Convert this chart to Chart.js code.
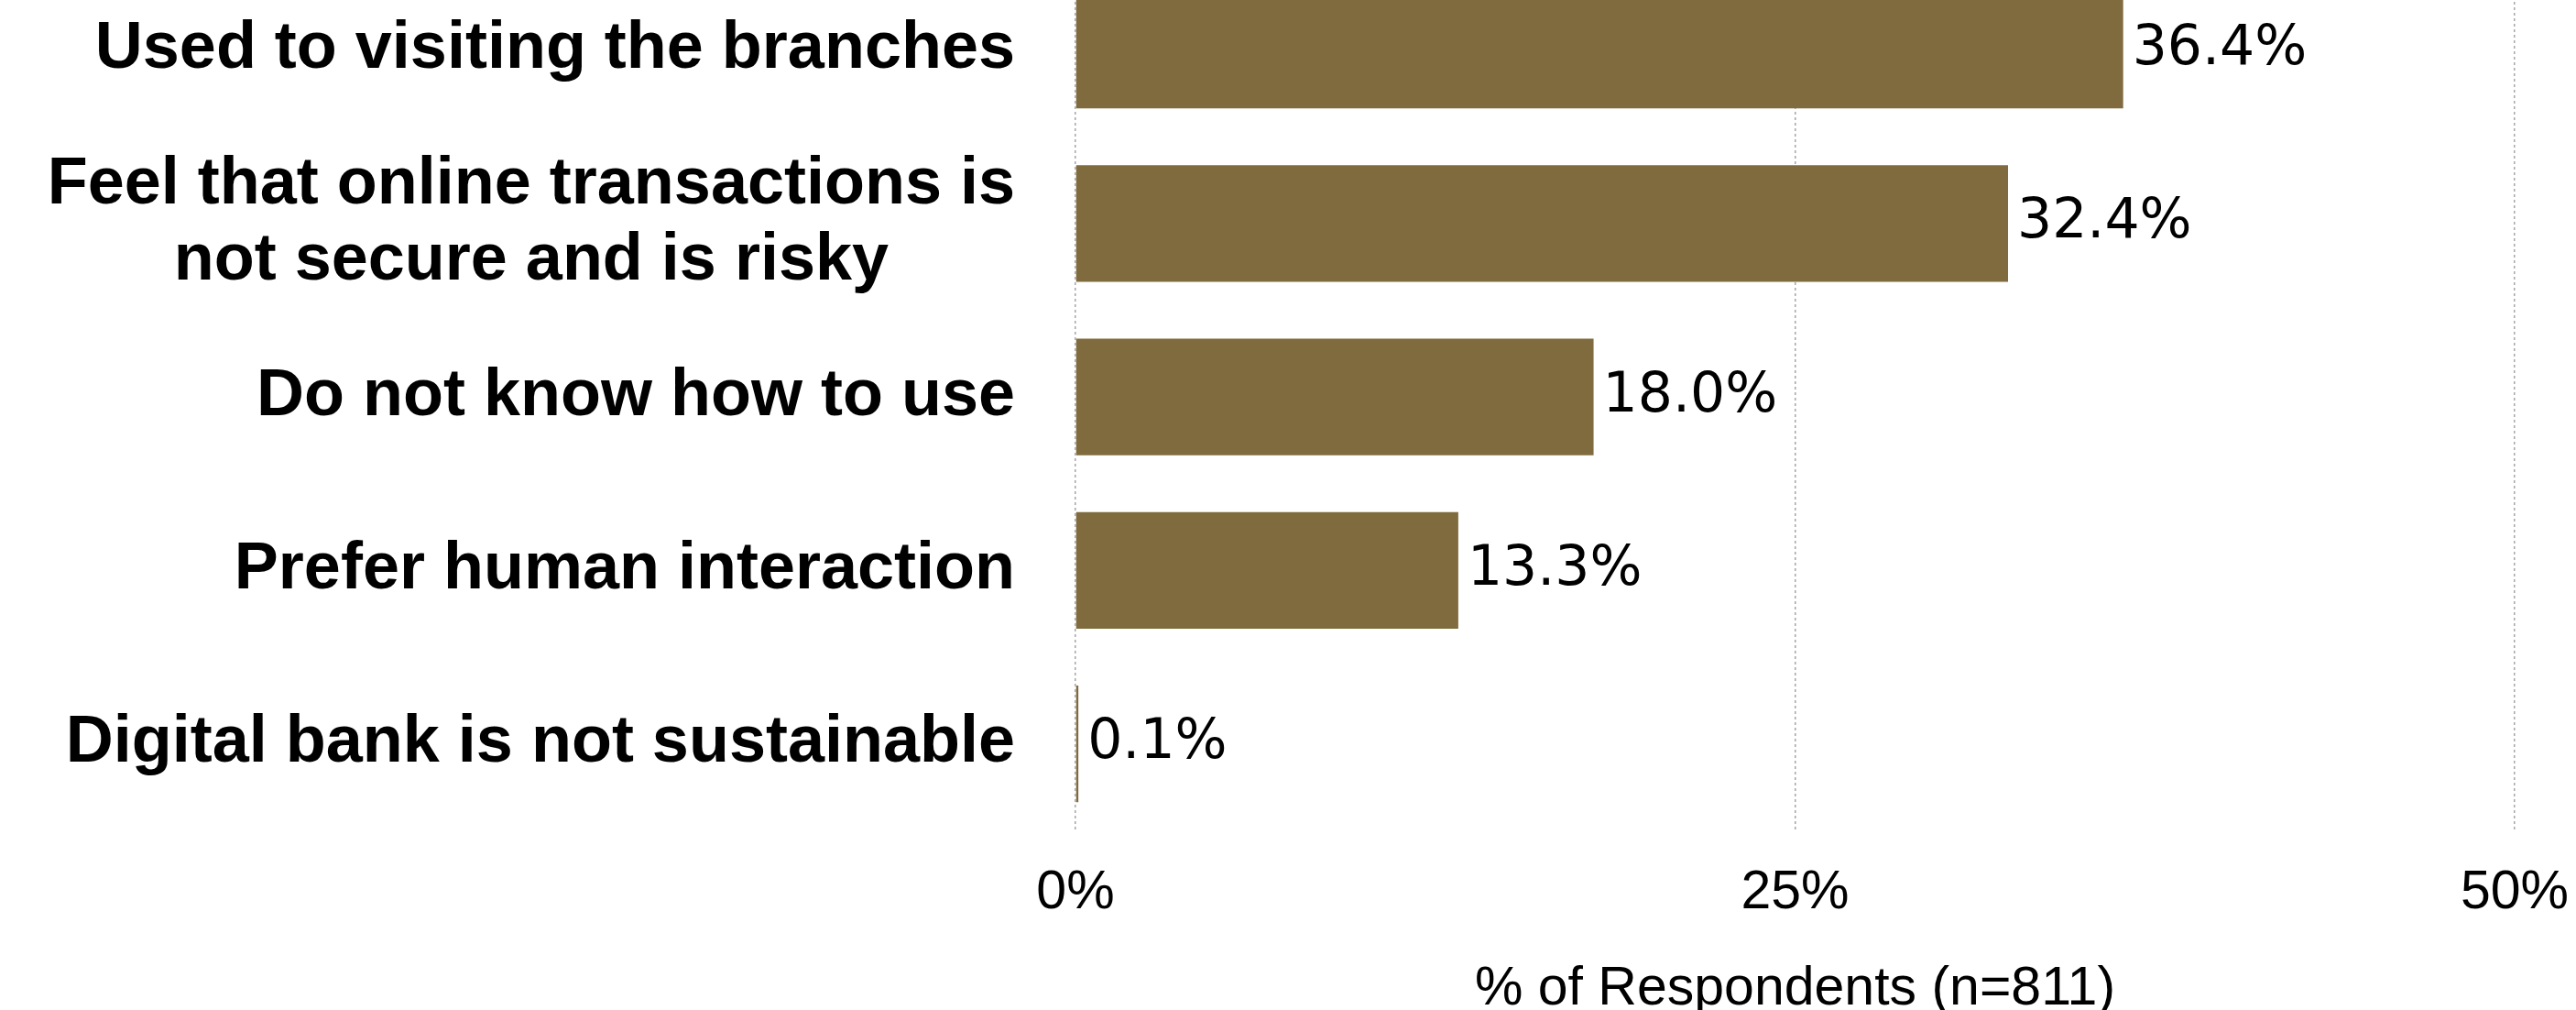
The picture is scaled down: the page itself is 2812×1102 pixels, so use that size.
<!DOCTYPE html>
<html>
<head>
<meta charset="utf-8">
<script src="https://cdn.jsdelivr.net/npm/chart.js"></script>
<style>
    html, body { margin: 0; padding: 0; background: #fff; }
    #wrap { position: relative; width: 2812px; height: 1102px; overflow: hidden; }
    #reasonsChart { position: absolute; left: 0; top: -40px; }
</style>
</head>
<body>
<div id="wrap">
    <canvas id="reasonsChart" width="2812" height="1149"></canvas>
</div>
<script>
const reasons = [
    ['Used to visiting the branches'],
    ['Feel that online transactions is', 'not secure and is risky'],
    ['Do not know how to use'],
    ['Prefer human interaction'],
    ['Digital bank is not sustainable']
];
const shares = [36.4, 32.4, 18.0, 13.3, 0.1];
const axisTicks = [0, 25, 50];
const axisTitle = '% of Respondents (n=811)';

const barColor = '#7f6b3e';

// Category labels: right-aligned block, lines centred inside the block
const categoryLabels = {
    id: 'categoryLabels',
    afterDraw(chart) {
        const { ctx, chartArea, scales } = chart;
        const right = chartArea.left - 66;
        const lineH = 83;
        ctx.save();
        ctx.font = 'bold 72px "Liberation Sans", Arial, sans-serif';
        ctx.fillStyle = '#000';
        ctx.textBaseline = 'middle';
        ctx.textAlign = 'center';
        reasons.forEach((lines, i) => {
            const y = scales.y.getPixelForValue(i);
            const w = Math.max(...lines.map(l => ctx.measureText(l).width));
            const cx = right - w / 2;
            const y0 = y - (lines.length - 1) * lineH / 2;
            lines.forEach((l, k) => ctx.fillText(l, cx, y0 + k * lineH));
        });
        ctx.restore();
    }
};

// Value labels at the end of each bar
const valueLabels = {
    id: 'valueLabels',
    afterDatasetsDraw(chart) {
        const { ctx } = chart;
        const meta = chart.getDatasetMeta(0);
        ctx.save();
        ctx.font = '60px "DejaVu Sans", sans-serif';
        ctx.fillStyle = '#000';
        ctx.textBaseline = 'middle';
        ctx.textAlign = 'left';
        meta.data.forEach((bar, i) => {
            ctx.fillText(shares[i].toFixed(1) + '%', bar.x + 10, bar.y);
        });
        ctx.restore();
    }
};

new Chart(document.getElementById('reasonsChart'), {
    type: 'bar',
    data: {
        labels: reasons.map(r => r.join(' ')),
        datasets: [{
            data: shares,
            backgroundColor: barColor,
            borderWidth: 0,
            barPercentage: 0.673,
            categoryPercentage: 1
        }]
    },
    options: {
        indexAxis: 'y',
        responsive: false,
        animation: false,
        events: [],
        layout: { padding: { left: 0, right: 67, top: 0, bottom: 0 } },
        plugins: {
            legend: { display: false },
            tooltip: { enabled: false }
        },
        scales: {
            x: {
                min: 0,
                max: 50,
                afterBuildTicks: (scale) => {
                    scale.ticks = axisTicks.map(v => ({ value: v }));
                },
                // edge tick labels fit inside the outer padding
                afterFit: (scale) => {
                    scale.paddingLeft = 0;
                    scale.paddingRight = 0;
                },
                ticks: {
                    callback: (v) => v + '%',
                    color: '#000',
                    padding: 33,
                    font: { family: '"Liberation Sans", Arial, sans-serif', size: 59, lineHeight: 1.2 }
                },
                grid: {
                    color: '#a6a6a6',
                    lineWidth: 1.5,
                    drawTicks: false
                },
                border: { display: false, dash: [3, 3] },
                title: {
                    display: true,
                    text: axisTitle,
                    color: '#000',
                    padding: { top: 7, bottom: 0 },
                    font: { family: '"Liberation Sans", Arial, sans-serif', size: 59, lineHeight: 1.0 }
                }
            },
            y: {
                // fixed gutter for the category labels drawn by the plugin
                afterFit: (scale) => { scale.width = 1174; },
                ticks: { display: false },
                grid: { display: false },
                border: { display: false }
            }
        }
    },
    plugins: [categoryLabels, valueLabels]
});
</script>
</body>
</html>
